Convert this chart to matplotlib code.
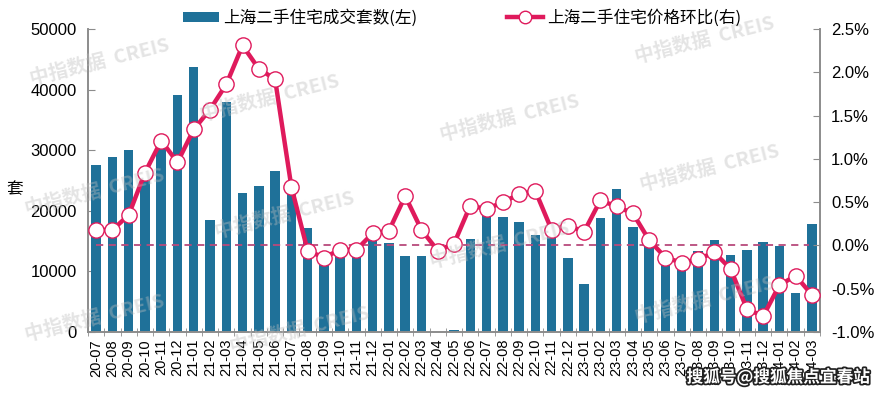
import matplotlib
matplotlib.use("Agg")
import matplotlib.pyplot as plt
import matplotlib.patheffects as pe
from matplotlib.patches import Patch
from matplotlib.lines import Line2D
import numpy as np

plt.rcParams['font.family'] = ['Liberation Sans', 'Noto Sans CJK SC', 'DejaVu Sans']

months = ['20-07', '20-08', '20-09', '20-10', '20-11', '20-12',
          '21-01', '21-02', '21-03', '21-04', '21-05', '21-06',
          '21-07', '21-08', '21-09', '21-10', '21-11', '21-12',
          '22-01', '22-02', '22-03', '22-04', '22-05', '22-06',
          '22-07', '22-08', '22-09', '22-10', '22-11', '22-12',
          '23-01', '23-02', '23-03', '23-04', '23-05', '23-06',
          '23-07', '23-08', '23-09', '23-10', '23-11', '23-12',
          '24-01', '24-02', '24-03']

volume = [27600, 28900, 30100, 26000, 30500, 39100,
          43700, 18500, 37900, 23000, 24100, 26600,
          24000, 17200, 11800, 12400, 12600, 15500,
          14700, 12500, 12500, 0, 300, 15400,
          19500, 19000, 18100, 16000, 15800, 12200,
          7900, 18800, 23600, 17300, 15000, 11500,
          10600, 13400, 15100, 12700, 13500, 14900,
          14200, 6400, 17800]

price_mom = [0.18, 0.18, 0.35, 0.84, 1.21, 0.96,
             1.34, 1.57, 1.86, 2.31, 2.04, 1.92,
             0.68, -0.06, -0.14, -0.05, -0.05, 0.14,
             0.17, 0.57, 0.18, -0.06, 0.02, 0.46,
             0.42, 0.50, 0.59, 0.63, 0.18, 0.23,
             0.16, 0.52, 0.45, 0.37, 0.06, -0.14,
             -0.20, -0.16, -0.08, -0.27, -0.73, -0.82,
             -0.46, -0.35, -0.57]

left_ticks = [0, 10000, 20000, 30000, 40000, 50000]
right_ticks = [-1.0, -0.5, 0.0, 0.5, 1.0, 1.5, 2.0, 2.5]

bar_label = '上海二手住宅成交套数(左)'
line_label = '上海二手住宅价格环比(右)'
ylabel_left = '套'
watermark = '中指数据  CREIS'
source_note = '搜狐号@搜狐焦点宜春站'

bar_color = '#1f7199'
line_color = '#df1a5c'
axis_color = '#8c8c8c'

fig = plt.figure(figsize=(8.92, 3.94), dpi=100)
ax = fig.add_axes([88/892, 1-332/394, (820-88)/892, (332-29)/394])
ax2 = ax.twinx()

# watermarks
wm_pos = [(100, 62), (270, 98), (510, 118), (705, 40), (710, 168), (95, 192),
          (285, 215), (95, 318), (500, 245), (705, 300), (300, 330)]
for (px, py) in wm_pos:
    fig.text(px/892, 1-py/394, watermark, fontsize=14, fontweight='bold',
             color='#bdbdbd', alpha=0.4, rotation=14, ha='center', va='center',
             zorder=0, family=['Noto Sans CJK SC', 'DejaVu Sans'])

x = np.arange(len(months))
ax.bar(x, volume, width=0.58, color=bar_color, zorder=2)
ax.set_xlim(-0.5, len(months) - 0.5)
ax.set_ylim(0, 50000)
ax.set_yticks(left_ticks)
ax.set_yticklabels([str(v) for v in left_ticks])
ax.set_xticks(x)
ax.set_xticklabels(months, rotation=90, fontsize=10.5)
ax.set_xticks(np.arange(-0.5, len(months), 1.0), minor=True)
ax.tick_params(axis='x', which='major', length=0, pad=5)
ax.tick_params(axis='x', which='minor', length=6, direction='inout', color=axis_color)
ax.tick_params(axis='y', direction='in', length=5, color=axis_color, labelsize=12, pad=8)

ax2.plot(x, price_mom, color=line_color, lw=3.2, marker='o', markersize=11,
         markerfacecolor='white', markeredgecolor=line_color, markeredgewidth=1.0,
         zorder=4)
ax2.axhline(0, xmin=0.5/45, xmax=44.3/45, color='#b84a7c', lw=1.3,
            ls=(0, (4, 3)), zorder=3)
ax2.set_ylim(-1.0, 2.5)
ax2.set_yticks(right_ticks)
ax2.set_yticklabels([f'{v:.1f}%' for v in right_ticks])
ax2.tick_params(axis='y', direction='in', length=5, color=axis_color, labelsize=12, pad=8)

for a in (ax, ax2):
    a.patch.set_visible(False)
    a.spines['top'].set_visible(False)
    for s in ('left', 'right', 'bottom'):
        a.spines[s].set_color(axis_color)
        a.spines[s].set_linewidth(1.2)

fig.text(15/892, 1-190/394, ylabel_left, fontsize=12, ha='center', va='center',
         family=['Noto Sans CJK SC', 'DejaVu Sans'])

handles = [Patch(facecolor=bar_color, edgecolor='none'),
           Line2D([0], [0], color=line_color, lw=3.2, marker='o', markersize=9,
                  markerfacecolor='white', markeredgecolor=line_color)]
leg = fig.legend(handles, [bar_label, line_label], loc='center',
                 bbox_to_anchor=(462/892, 1-18/394), ncol=2, frameon=False,
                 handlelength=2.15, handleheight=0.5, handletextpad=0.25,
                 columnspacing=5.4,
                 prop={'family': ['Noto Sans CJK SC', 'DejaVu Sans'], 'size': 12})

fig.text(778/892, 1-377/394, source_note, fontsize=12, fontweight='bold',
         color='white', ha='center', va='center',
         family=['Noto Sans CJK SC', 'DejaVu Sans'],
         path_effects=[pe.withStroke(linewidth=2.5, foreground='#222222')])

fig.savefig('out.png', dpi=100)
